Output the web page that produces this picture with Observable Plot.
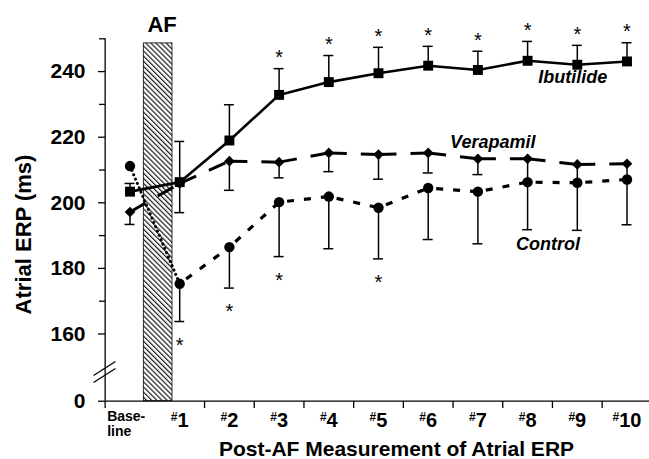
<!DOCTYPE html>
<html><head><meta charset="utf-8">
<script src="https://cdn.jsdelivr.net/npm/d3@7"></script>
<script src="https://cdn.jsdelivr.net/npm/@observablehq/plot@0.6"></script>
<style>body{margin:0;background:#fff}#chart{width:649px;height:459px}</style>
</head><body><div id="chart"></div>
<script>
// ---- data ----
const categories = ["Base-\nline", "1", "2", "3", "4", "5", "6", "7", "8", "9", "10"];
const ibutilide   = [203.4, 206.3, 219.0, 232.9, 236.8, 239.5, 241.8, 240.5, 243.3, 242.1, 243.1];
const ibutilideHi = [205.9, 218.7, 229.9, 240.9, 244.9, 247.4, 247.7, 246.2, 249.2, 248.0, 248.8];
const ibutilideLo = [null, 197.0, null, null, null, null, null, null, null, null, null];
const verapamil   = [197.2, 205.9, 212.7, 212.4, 215.2, 214.7, 215.2, 213.4, 213.4, 211.7, 211.9];
const verapamilLo = [193.4, null, 203.8, 207.6, 209.5, 207.2, 209.1, 208.6, 206.3, 206.1, 207.1];
const control     = [211.2, 175.3, 186.5, 200.2, 201.9, 198.5, 204.5, 203.4, 206.3, 206.1, 207.1];
const controlLo   = [null, 163.8, 174.0, 183.6, 186.0, 182.9, 188.8, 187.5, 191.8, 191.6, 193.3];
const ibutilideStars = [3, 4, 5, 6, 7, 8, 9, 10];
const controlStars = [1, 2, 3, 5];
const yMajor = [0, 160, 180, 200, 220, 240];
const yMinor = [170, 190, 210, 230, 250];
const xBoundaries = [-0.5, 1.5, 2.5, 3.5, 4.5, 5.5, 6.5, 7.5, 8.5, 9.5];
const afSpan = [0.278, 0.855];
const afTop = 248.6;
const afLabel = ["AF"];
const labelNames = ["Ibutilide", "Verapamil", "Control"];
const labelX = [8.91, 7.30, 8.41];
const labelY = [236.4, 216.6, 185.5];
const breakX = [-0.734, -0.292];
const breakLow = [81.5, 142.6];
const breakHigh = [112, 151.6];
const xTitle = "Post-AF Measurement of Atrial ERP";
const yTitle = "Atrial ERP (ms)";

// ---- derived tables ----
const rows = (v, hi, lo) => v.map((d, i) => ({i, v: d, hi: hi ? hi[i] : null, lo: lo ? lo[i] : null}));
const ib = rows(ibutilide, ibutilideHi, ibutilideLo);
const ve = rows(verapamil, null, verapamilLo);
const co = rows(control, null, controlLo);
const segs = v => v.slice(1).map((d, k) => ({i1: k, v1: v[k], i2: k + 1, v2: d}));
const hiRows = [...ib].filter(d => d.hi != null);
const loRows = [...ib, ...ve, ...co].filter(d => d.lo != null);
const ibStarRows = ib.filter(d => ibutilideStars.includes(d.i));
const coStarRows = co.filter(d => controlStars.includes(d.i));
const numLabels = categories.slice(1).map((c, k) => ({i: k + 1, t: "#" + c}));
const labels = labelNames.map((n, k) => ({n, x: labelX[k], y: labelY[k]}));
const breaks = [
  {x1: breakX[0], y1: breakLow[0], x2: breakX[1], y2: breakLow[1]},
  {x1: breakX[0], y1: breakHigh[0], x2: breakX[1], y2: breakHigh[1]}
];
const capW = 0.1;

const plot = Plot.plot({
  width: 649, height: 459,
  marginLeft: 105, marginRight: 0, marginTop: 38, marginBottom: 58,
  style: {fontFamily: "'Liberation Sans', Arial, sans-serif", background: "white", color: "black"},
  x: {type: "linear", domain: [-0.5, 10.5], range: [104.65, 651.35]},
  y: {type: "linear", domain: [0, 150, 250], range: [400.7, 366.3, 38.3]},
  marks: [
    // AF period box
    Plot.rect([afTop], {x1: afSpan[0], x2: afSpan[1], y1: 0, y2: d => d, fill: "url(#afHatch)", stroke: "black", strokeWidth: 0.8}),
    Plot.text(afLabel, {x: (afSpan[0] + afSpan[1]) / 2 + 0.08, y: afTop, text: d => d, dy: -11, lineAnchor: "bottom", fontSize: 22, fontWeight: "bold"}),
    // axes
    Plot.ruleY([0], {strokeWidth: 1.3}),
    Plot.ruleX([-0.5], {y1: 0, y2: 250, strokeWidth: 1.3}),
    Plot.axisY(yMajor, {anchor: "left", tickSize: 7, tickPadding: 13, fontSize: 21, fontWeight: "bold", label: null, strokeWidth: 1.3}),
    Plot.axisY(yMinor, {anchor: "left", tickSize: 6, tickFormat: () => "", label: null, strokeWidth: 1.3}),
    Plot.axisX(xBoundaries, {anchor: "bottom", tickSize: 7, tickFormat: () => "", label: null, strokeWidth: 1.3}),
    Plot.link(breaks, {x1: "x1", y1: "y1", x2: "x2", y2: "y2", strokeWidth: 1.3}),
    Plot.text([categories[0]], {x: -0.5, y: 0, text: d => d, dx: 2, dy: 8, textAnchor: "start", lineAnchor: "top", lineHeight: 1.14, fontSize: 14, fontWeight: "bold"}),
    Plot.text(numLabels, {x: "i", y: 0, text: "t", dy: 25.5, lineAnchor: "bottom", fontSize: 20, fontWeight: "bold"}),
    Plot.text([xTitle], {frameAnchor: "bottom", dx: 19, dy: 54, lineAnchor: "bottom", fontSize: 21, fontWeight: "bold"}),
    Plot.text([yTitle], {frameAnchor: "left", textAnchor: "middle", rotate: -90, dx: -82, dy: 14.5, fontSize: 22, fontWeight: "bold"}),
    // connecting lines
    Plot.line(ib, {x: "i", y: "v", strokeWidth: 2.6}),
    Plot.link(segs(verapamil), {x1: "i1", y1: "v1", x2: "i2", y2: "v2", strokeWidth: 3, strokeDasharray: "18,14"}),
    Plot.link(segs(control).slice(0, 1), {x1: "i1", y1: "v1", x2: "i2", y2: "v2", strokeWidth: 3, strokeDasharray: "0.1,4.6", strokeLinecap: "round"}),
    Plot.link(segs(control).slice(1), {x1: "i1", y1: "v1", x2: "i2", y2: "v2", strokeWidth: 3.2, strokeDasharray: "7,10", strokeDashoffset: -8}),
    // error bars
    Plot.ruleX(hiRows, {x: "i", y1: "v", y2: "hi", strokeWidth: 1.5}),
    Plot.ruleY(hiRows, {y: "hi", x1: d => d.i - capW, x2: d => d.i + capW, strokeWidth: 1.5}),
    Plot.ruleX(loRows, {x: "i", y1: "v", y2: "lo", strokeWidth: 1.5}),
    Plot.ruleY(loRows, {y: "lo", x1: d => d.i - capW, x2: d => d.i + capW, strokeWidth: 1.5}),
    // markers
    Plot.dot(co, {x: "i", y: "v", r: 5.2, fill: "black", symbol: "circle"}),
    Plot.dot(ve, {x: "i", y: "v", r: 4.8, fill: "black", symbol: "diamond2"}),
    Plot.dot(ib, {x: "i", y: "v", r: 5.6, fill: "black", symbol: "square"}),
    // significance stars
    Plot.text(ibStarRows, {x: "i", y: "hi", text: () => "*", dy: -11, fontSize: 20}),
    Plot.text(coStarRows, {x: "i", y: "lo", text: () => "*", dy: 24, fontSize: 20}),
    // series labels
    Plot.text(labels, {x: "x", y: "y", text: "n", lineAnchor: "bottom", fontSize: 18, fontWeight: "bold", fontStyle: "italic"})
  ]
});

const svg = d3.select(plot);
svg.insert("defs", ":first-child").html(
  '<pattern id="afHatch" width="3.6" height="3.6" patternUnits="userSpaceOnUse" patternTransform="rotate(-45)">' +
  '<rect width="3.6" height="3.6" fill="white"/>' +
  '<line x1="0.6" y1="0" x2="0.6" y2="3.6" stroke="#1a1a1a" stroke-width="1.2"/></pattern>'
);
// superscript "#" in measurement labels
svg.selectAll("text").filter(function () { return /^#\d+$/.test(this.textContent); }).each(function () {
  const n = this.textContent.slice(1);
  const t = d3.select(this);
  t.text(null);
  t.append("tspan").attr("font-size", 12).attr("dy", -6).text("#");
  t.append("tspan").attr("dy", 6).text(n);
});
document.getElementById("chart").append(plot);
</script></body></html>
